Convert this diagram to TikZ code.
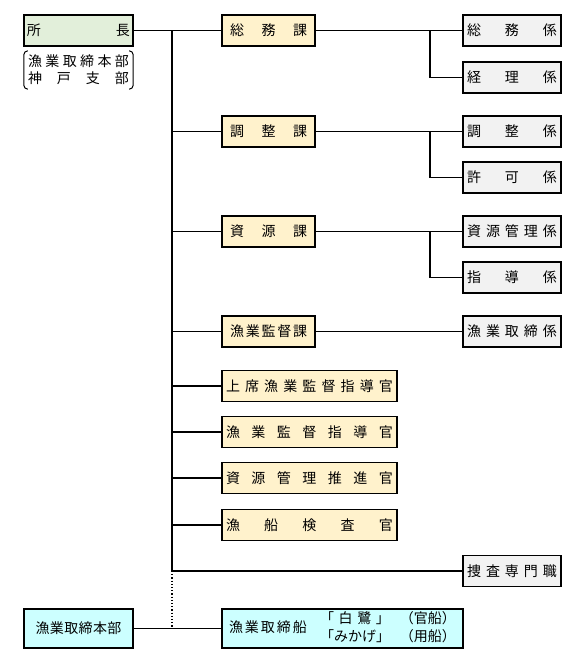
\documentclass[tikz,border=0pt]{standalone}
\usepackage{fontspec}
\newfontfamily\jp{Noto Sans CJK JP}
\definecolor{kabg}{HTML}{FFF2CC}
\definecolor{chiefbg}{HTML}{E2EFDA}
\definecolor{kakaribg}{HTML}{F2F2F2}
\definecolor{hqbg}{HTML}{CCFFFF}
\newcommand\spr[2]{\makebox[#1][s]{\sprloop#2\relax}}
\def\sprloop#1#2{#1\ifx\relax#2\else\hfill\expandafter\sprloop\expandafter#2\fi}
\begin{document}
\begin{tikzpicture}[x=1pt,y=-1pt,
  txt/.style={font=\jp\fontsize{14}{18}\selectfont, text=black},
  box/.style={txt, draw=black, line width=1.2pt, inner sep=0pt, minimum height=31pt},
  chief/.style={box, fill=chiefbg, minimum width=109pt},
  ka/.style={box, fill=kabg, minimum width=93pt},
  wide/.style={box, fill=kabg, minimum width=175pt},
  kakari/.style={box, fill=kakaribg, minimum width=98pt},
  hq/.style={box, fill=hqbg, minimum height=39pt},
  conn/.style={draw=black, line width=1.2pt},
  brk/.style={draw=black, line width=1pt, rounded corners=4pt}]
\useasboundingbox (0,0) rectangle (586,665);

% chief
\node[chief] (shocho) at (78.5,30.5) {\spr{103pt}{所長}};
\node[txt, inner sep=0pt, minimum width=109pt, minimum height=38pt, align=center,
  font=\jp\fontsize{14}{17}\selectfont] (kobe) at (78.5,70)
  {\spr{101pt}{漁業取締本部}\\\spr{101pt}{神戸支部}};
\draw[brk] ([xshift=4pt]kobe.north west) -- (kobe.north west) -- (kobe.south west) -- ([xshift=4pt]kobe.south west);
\draw[brk] ([xshift=-4pt]kobe.north east) -- (kobe.north east) -- (kobe.south east) -- ([xshift=-4pt]kobe.south east);

% divisions
\node[ka] (somuka) at (268.5,30.5) {\spr{77pt}{総務課}};
\node[ka] (choseika) at (268.5,131.5) {\spr{77pt}{調整課}};
\node[ka] (shigenka) at (268.5,231.5) {\spr{77pt}{資源課}};
\node[ka] (kantokuka) at (268.5,331.5) {\spr{77pt}{漁業監督課}};

\node[wide] (joseki) at (309.5,386) {\spr{167pt}{上席漁業監督指導官}};
\node[wide] (shidokan) at (309.5,432) {\spr{167pt}{漁業監督指導官}};
\node[wide] (suishinkan) at (309.5,478) {\spr{167pt}{資源管理推進官}};
\node[wide] (kensakan) at (309.5,525) {\spr{167pt}{漁船検査官}};

% sections
\node[kakari] (somukakari) at (512,30.5) {\spr{90pt}{総務係}};
\node[kakari] (keiri) at (512,77.5) {\spr{90pt}{経理係}};
\node[kakari] (choseikakari) at (512,131.5) {\spr{90pt}{調整係}};
\node[kakari] (kyoka) at (512,177.5) {\spr{90pt}{許可係}};
\node[kakari] (shigenkanri) at (512,231.5) {\spr{90pt}{資源管理係}};
\node[kakari] (shido) at (512,277.5) {\spr{90pt}{指導係}};
\node[kakari] (torishimari) at (512,331.5) {\spr{90pt}{漁業取締係}};
\node[kakari] (sosa) at (512,571) {\spr{90pt}{捜査専門職}};

% bottom
\node[hq, minimum width=109pt] (honbu) at (78.5,628.5) {\spr{86pt}{漁業取締本部}};
\node[hq, minimum width=241pt] (ship) at (342.5,628.5)
  {\hbox to 241pt{\hspace{7pt}\spr{78pt}{漁業取締船}\hfill
   \begin{tabular}{@{}l@{\hspace{10pt}}l@{}}
   \spr{70pt}{「白鷺」} & （官船）\\
   \spr{70pt}{「みかげ」} & （用船）
   \end{tabular}\hspace{7pt}}};

% connectors
\coordinate (tTop) at (172,30.5);
\coordinate (tMid) at (172,571);
\coordinate (tBot) at (172,628.5);
\coordinate (bx) at (430,0);

\draw[conn] (shocho.east) -- (somuka.west);
\draw[conn] (tTop) -- (tMid);
\draw[conn, dotted] (tMid) -- (tBot);
\foreach \n in {choseika,shigenka,kantokuka,joseki,shidokan,suishinkan,kensakan}
  \draw[conn] (tTop |- \n.west) -- (\n.west);
\draw[conn] (tMid) -- (sosa.west);
\draw[conn] (honbu.east) -- (ship.west);

\draw[conn] (somuka.east) -- (somukakari.west);
\draw[conn] (bx |- somuka.east) |- (keiri.west);
\draw[conn] (choseika.east) -- (choseikakari.west);
\draw[conn] (bx |- choseika.east) |- (kyoka.west);
\draw[conn] (shigenka.east) -- (shigenkanri.west);
\draw[conn] (bx |- shigenka.east) |- (shido.west);
\draw[conn] (kantokuka.east) -- (torishimari.west);
\end{tikzpicture}
\end{document}
